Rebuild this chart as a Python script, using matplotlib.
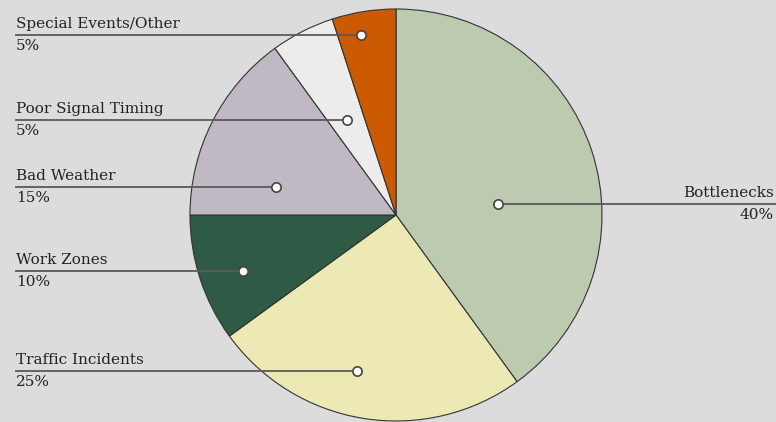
import numpy as np
import matplotlib.pyplot as plt

# Causes of congestion
causes = ['Bottlenecks', 'Traffic Incidents', 'Work Zones', 'Bad Weather',
          'Poor Signal Timing', 'Special Events/Other']
shares = [40, 25, 10, 15, 5, 5]
colors = ['#bccbb0', '#ece9b4', '#2f5a45', '#c0b8c2', '#ececec', '#cc5a00']

# where each callout dot sits inside its slice (angle in deg, fraction of radius)
dot_angle = [6, 256, 200, 167, 117, 101]
dot_frac = [0.50, 0.78, 0.79, 0.60, 0.52, 0.89]

W, H = 776, 422
fig = plt.figure(figsize=(W / 100, H / 100), dpi=100)
fig.patch.set_facecolor('#dcdcdc')
ax = fig.add_axes([0, 0, 1, 1])

cx, cy, r = 396, 207, 206
ax.pie(shares, colors=colors, startangle=90, counterclock=False,
       center=(cx, cy), radius=r, frame=True,
       wedgeprops=dict(edgecolor='#333333', linewidth=0.8))
ax.set_xlim(0, W)
ax.set_ylim(0, H)
ax.set_aspect('equal')
ax.axis('off')

font = dict(family=['DejaVu Serif'], fontsize=11, color='#222222')
for name, val, a, f in zip(causes, shares, dot_angle, dot_frac):
    x = cx + f * r * np.cos(np.radians(a))
    y = cy + f * r * np.sin(np.radians(a))
    if name == 'Bottlenecks':
        ax.plot([x, W], [y, y], color='#5a5a5a', lw=1.3, zorder=3)
        ax.text(W - 2, y + 4, name, ha='right', va='bottom', **font)
        ax.text(W - 2, y - 4, f'{val}%', ha='right', va='top', **font)
    else:
        ax.plot([16, x], [y, y], color='#5a5a5a', lw=1.3, zorder=3)
        ax.text(16, y + 4, name, ha='left', va='bottom', **font)
        ax.text(16, y - 4, f'{val}%', ha='left', va='top', **font)
    ax.scatter([x], [y], s=45, facecolor='white', edgecolor='#444444',
               linewidth=1.2, zorder=4)

fig.savefig('out.png', dpi=100, facecolor=fig.get_facecolor())
